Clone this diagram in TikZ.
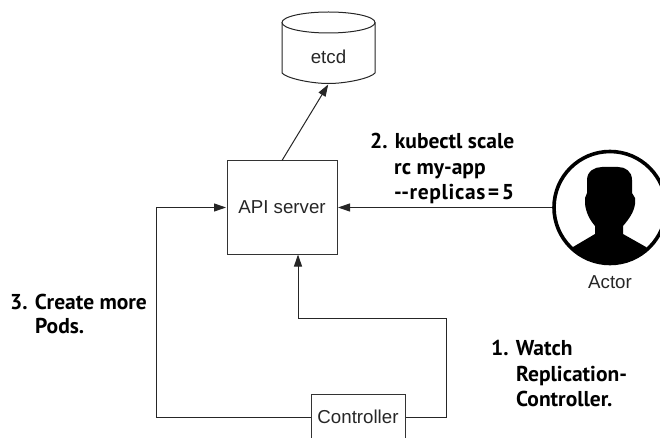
\documentclass[tikz,border=0pt]{standalone}
\usepackage{fontspec}
\setmainfont{Liberation Sans}
\newfontfamily\lblfont{PT Sans}[BoldFont={PT Sans Bold}]
\usetikzlibrary{arrows.meta}
\tikzset{
  box/.style={draw=black!80,line width=1pt,inner sep=0pt,font=\fontsize{18.7}{20}\selectfont,text=black!85},
  wire/.style={draw=black!85,line width=1pt},
  tip/.style={wire,-{Triangle[length=12pt,width=8pt]},shorten >=0.5pt},
  lbl/.style={font=\lblfont\bfseries\fontsize{21.5}{25.5}\selectfont,align=left,anchor=north west,inner sep=0pt,text=black},
  plain/.style={font=\fontsize{18.7}{20}\selectfont,text=black!85,inner sep=0pt}
}
\begin{document}
\begin{tikzpicture}[x=1pt,y=-1pt]
\useasboundingbox (0,0) rectangle (660,438);
\begin{scope}
\clip (0,0) rectangle (660,438);
% nodes
\node[box,minimum width=110pt,minimum height=93pt] (api) at (282,207.5) {API server};
\node[box,minimum width=94pt,minimum height=60pt] (ctrl) at (358,424) {};
\node[plain] (ctrltext) at (358,417) {Controller};
% etcd
\draw[wire,fill=white] (282,22.5) -- (282,73) .. controls (286,78) and (310,83.5) .. (328.5,83.5) .. controls (347,83.5) and (371,78) .. (375,73) -- (375,22.5);
\draw[wire,fill=white] (328.5,22.5) ellipse [x radius=46.5,y radius=10.5];
\node[plain] (etcd) at (328.5,57) {etcd};
\coordinate (etcdb) at (328.5,84);
% actor
\begin{scope}
\clip (610,207.5) circle (57);
\fill[black] (573,247) -- (595,234) -- (595,226) .. controls (589,219) and (586,212) .. (585,204) -- (585,198) .. controls (585,196) and (587,195) .. (587,193) -- (587,180) .. controls (587,171) and (595,167) .. (602,167) -- (618,167) .. controls (625,167) and (632,171) .. (632,180) -- (632,193) .. controls (632,195) and (635,196) .. (635,198) -- (635,204) .. controls (634,212) and (629,219) .. (623,226) -- (623,234) -- (646,247) -- (670,290) -- (550,290) -- cycle;
\end{scope}
\node[draw=black,line width=3.6pt,circle,minimum size=112pt,inner sep=0pt] (actor) at (610,207.5) {};
\node[plain] (actorlbl) at (610,282) {Actor};
% connectors
\draw[tip] (api.north) ++(0,0) -- (etcdb);
\draw[tip] (actor.west) -- (api.east);
\draw[tip] (ctrl.east |- ctrltext) -- (446,417) -- (446,318) -- (298,318) -- (298,254);
\draw[tip] (ctrl.west |- ctrltext) -- (156,417) -- (156,207.5) -- (api.west);
% labels
\node[lbl] (l2) at (370,133) {2. kubectl scale\\\hspace*{24pt}rc my-app\\\hspace*{24pt}{\addfontfeature{LetterSpace=3}--replicas}\hspace{2.5pt}=\hspace{2.5pt}5};
\node[lbl] (l3) at (10,294) {3. Create more\\[-1.5pt]\hspace*{25pt}Pods.};
\node[lbl] (l1) at (491,340) {1. Watch\\\hspace*{25pt}Replication-\\\hspace*{25pt}Controller.};
\end{scope}
\end{tikzpicture}
\end{document}
